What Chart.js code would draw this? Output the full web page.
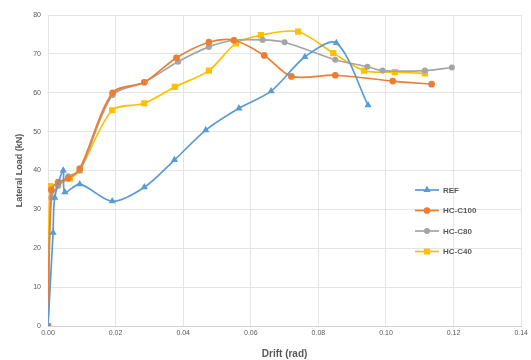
<!DOCTYPE html>
<html><head><meta charset="utf-8">
<script src="https://cdn.jsdelivr.net/npm/chart.js@4/dist/chart.umd.min.js"></script>
<style>html,body{margin:0;padding:0;background:#fff}#wrap{width:531px;height:360px}</style>
</head><body><div id="wrap"><canvas id="c" width="531" height="360"></canvas></div>
<script>
const seriesNames = ["REF", "HC-C100", "HC-C80", "HC-C40"];
const refDrift  = [0, 0.0015, 0.002, 0.0045, 0.005, 0.0094, 0.019, 0.0285, 0.0374, 0.0467, 0.0565, 0.066, 0.076, 0.0853, 0.0947];
const refLoad   = [0, 24, 33, 40, 34.4, 36.5, 32.1, 35.7, 42.7, 50.4, 56.0, 60.4, 69.2, 72.8, 56.8];
const c100Drift = [0, 0.001, 0.003, 0.006, 0.0094, 0.0191, 0.0285, 0.038, 0.0476, 0.055, 0.064, 0.072, 0.085, 0.102, 0.1135];
const c100Load  = [0, 35, 37, 38, 40.5, 60, 62.7, 69, 73, 73.5, 69.6, 64.2, 64.5, 63, 62.2];
const c80Drift  = [0, 0.001, 0.003, 0.006, 0.0094, 0.0191, 0.0285, 0.0385, 0.0476, 0.055, 0.0635, 0.07, 0.085, 0.0945, 0.099, 0.1115, 0.1195];
const c80Load   = [0, 33, 36, 38.5, 40, 59.4, 62.7, 68, 71.8, 73.5, 73.6, 73, 68.5, 66.7, 65.7, 65.7, 66.5];
const c40Drift  = [0, 0.0006, 0.003, 0.0065, 0.0094, 0.019, 0.0285, 0.0375, 0.0476, 0.0556, 0.063, 0.074, 0.0844, 0.0935, 0.1026, 0.1115];
const c40Load   = [0, 36, 36.5, 38, 40, 55.5, 57.3, 61.5, 65.7, 72.7, 74.8, 75.7, 70.2, 65.7, 65.3, 65];
const xTicks = [0, 0.02, 0.04, 0.06, 0.08, 0.10, 0.12, 0.14];
const yTicks = [0, 10, 20, 30, 40, 50, 60, 70, 80];

const colors = ["#5B9BD5", "#ED7D31", "#A5A5A5", "#FFC000"];
const markers = ["triangle", "circle", "circle", "rect"];
const msizes = [2.5, 2.5, 2.2, 3.2];
const pairs = [[refDrift, refLoad], [c100Drift, c100Load], [c80Drift, c80Load], [c40Drift, c40Load]];

const datasets = pairs.map((p, i) => ({
  label: seriesNames[i],
  data: p[0].map((x, k) => ({x: x, y: p[1][k]})),
  borderColor: colors[i],
  backgroundColor: colors[i],
  borderWidth: 1.7,
  pointStyle: markers[i],
  pointRadius: msizes[i],
  pointBorderColor: colors[i],
  pointBackgroundColor: colors[i],
  tension: 0.3,
  fill: false
}));

const legendPlugin = {
  id: 'insideLegend',
  afterDraw(chart) {
    const ctx = chart.ctx;
    const x0 = 415, y0 = 190, dy = 20.5;
    ctx.save();
    chart.data.datasets.forEach((ds, i) => {
      const y = y0 + i * dy;
      ctx.strokeStyle = ds.borderColor;
      ctx.lineWidth = 1.7;
      ctx.beginPath(); ctx.moveTo(x0, y); ctx.lineTo(x0 + 24, y); ctx.stroke();
      ctx.fillStyle = ds.borderColor;
      Chart.helpers.drawPoint(ctx, {pointStyle: ds.pointStyle, radius: ds.pointRadius, borderWidth: 1, rotation: 0}, x0 + 12, y);
      ctx.fillStyle = "#595959";
      ctx.font = "bold 8px 'Liberation Sans', Arial, sans-serif";
      ctx.textBaseline = "middle";
      ctx.fillText(ds.label, x0 + 28, y + 0.5);
    });
    ctx.restore();
  }
};

new Chart(document.getElementById('c'), {
  type: 'line',
  data: { datasets: datasets },
  plugins: [legendPlugin],
  options: {
    responsive: false,
    animation: false,
    layout: { padding: { top: 15, right: 7, left: 14, bottom: 0 } },
    plugins: { legend: { display: false }, tooltip: { enabled: false } },
    scales: {
      x: {
        type: 'linear', min: 0, max: 0.14,
        afterBuildTicks: s => { s.ticks = xTicks.map(v => ({value: v})); },
        afterFit: s => { s.height = 34; },
        ticks: { color: "#595959", font: { size: 7, family: "'Liberation Sans', Arial" }, padding: 3,
          callback: v => v.toFixed(2) },
        grid: { color: "#E4E4E4", lineWidth: 1, drawTicks: false },
        border: { color: "#D0D0D0" },
        title: { display: true, text: "Drift (rad)", color: "#595959",
          font: { size: 10, weight: 'bold', family: "'Liberation Sans', Arial" }, padding: { top: 3, bottom: 0 } }
      },
      y: {
        type: 'linear', min: 0, max: 80,
        afterBuildTicks: s => { s.ticks = yTicks.map(v => ({value: v})); },
        afterFit: s => { s.width = 34; },
        ticks: { color: "#595959", font: { size: 7, family: "'Liberation Sans', Arial" }, padding: 7 },
        grid: { color: "#E4E4E4", lineWidth: 1, drawTicks: false },
        border: { display: false },
        title: { display: true, text: "Lateral Load (kN)", color: "#595959",
          font: { size: 9, weight: 'bold', family: "'Liberation Sans', Arial" }, padding: { top: 0, bottom: 0 } }
      }
    }
  }
});
</script>
</body></html>
